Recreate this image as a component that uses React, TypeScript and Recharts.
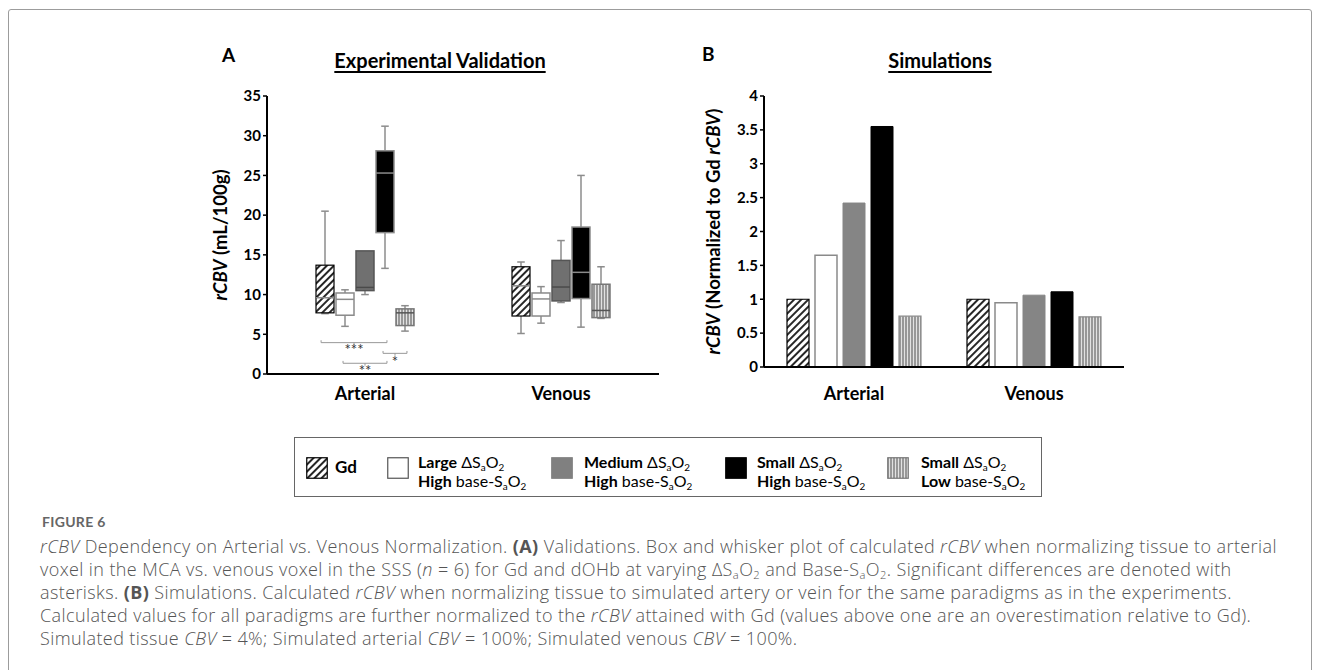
import React from "react";
import { BarChart, Bar, XAxis, YAxis, ReferenceLine, ReferenceDot } from "recharts";

// ---------- data ----------
const categories = ["Arterial", "Venous"];
const seriesKeys = ["gd", "large", "medium", "smallHigh", "smallLow"];

// box statistics per category: [min, q1, median, q3, max]
const gdBox = [[7.6, 7.7, 9.6, 13.7, 20.5], [5.1, 7.3, 11.1, 13.5, 14.1]];
const largeBox = [[6.0, 7.4, 9.4, 10.2, 10.6], [6.4, 7.3, 9.45, 10.2, 11.0]];
const mediumBox = [[10.0, 10.5, 10.9, 15.5, 15.5], [9.0, 9.2, 10.95, 14.3, 16.8]];
const smallHighBox = [[13.3, 17.8, 25.3, 28.1, 31.2], [5.9, 9.5, 12.8, 18.5, 25.0]];
const smallLowBox = [[5.4, 6.1, 7.7, 8.2, 8.6], [7.0, 7.1, 8.0, 11.3, 13.5]];

// simulated normalized rCBV per series
const simGd = [1.0, 1.0];
const simLarge = [1.65, 0.95];
const simMedium = [2.42, 1.06];
const simSmallHigh = [3.55, 1.11];
const simSmallLow = [0.75, 0.74];

const yTicksA = [0, 5, 10, 15, 20, 25, 30, 35];
const yTicksB = [0, 0.5, 1, 1.5, 2, 2.5, 3, 3.5, 4];

// significance braces in Arterial group (series indices)
const brackets = [
  { from: 0, to: 3, y: 3.95, label: "***", labelY: 3.0 },
  { from: 1, to: 3, y: 1.35, label: "**", labelY: 0.45 },
  { from: 3, to: 4, y: 2.6, label: "*", labelY: 1.5 },
];

const rowsA = categories.map((c, i) => ({
  category: c,
  gd: gdBox[i],
  large: largeBox[i],
  medium: mediumBox[i],
  smallHigh: smallHighBox[i],
  smallLow: smallLowBox[i],
}));

const rowsB = categories.map((c, i) => ({
  category: c,
  gd: simGd[i],
  large: simLarge[i],
  medium: simMedium[i],
  smallHigh: simSmallHigh[i],
  smallLow: simSmallLow[i],
}));

// ---------- styles ----------
const FONT = "Lato, 'Open Sans', sans-serif";
const CAPTION_FONT = "'Open Sans', Lato, sans-serif";

const boxStyles: any = {
  gd: { fill: "url(#hatchDiag)", stroke: "#000", sw: 1.2, median: "#8a8a8a" },
  large: { fill: "#fff", stroke: "#8a8a8a", sw: 1.5, median: "#8a8a8a" },
  medium: { fill: "#707070", stroke: "#555", sw: 1.5, median: "#4a4a4a" },
  smallHigh: { fill: "#000", stroke: "#8a8a8a", sw: 1.5, median: "#8a8a8a" },
  smallLow: { fill: "url(#vStripe)", stroke: "#777", sw: 1.5, median: "#555" },
};

const barStylesB: any = {
  gd: { fill: "url(#hatchDiag)", stroke: "#000", sw: 1.2 },
  large: { fill: "#fff", stroke: "#8a8a8a", sw: 1.5 },
  medium: { fill: "#858585", stroke: "#858585", sw: 1 },
  smallHigh: { fill: "#000", stroke: "#000", sw: 1 },
  smallLow: { fill: "url(#vStripe)", stroke: "#8a8a8a", sw: 1.2 },
};

// layout constants panel A
const A_W = 470, A_H = 340;
const A_MARGIN = { top: 16, right: 11, left: 27, bottom: 16 };
const A_YW = 40;
const A_BAR = 18, A_GAP = 2;
const A_PLOT_W = A_W - A_MARGIN.left - A_MARGIN.right - A_YW;
const A_BAND = A_PLOT_W / categories.length;
// position of a series' box centre in the Arterial band, as a fraction of the plot width
const centerUnits = (i: number) =>
  ((A_BAND - (seriesKeys.length * A_BAR + (seriesKeys.length - 1) * A_GAP)) / 2 + i * (A_BAR + A_GAP) + A_BAR / 2) / A_PLOT_W;

function makeBoxShape(key: string) {
  const st = boxStyles[key];
  return (props: any) => {
    const { x, y, width, height, payload } = props;
    const [mn, q1, med, q3, mx] = payload[key];
    const top = Math.min(y, y + height);
    const bottom = Math.max(y, y + height);
    const per = (bottom - top) / (q3 - q1);
    const py = (v: number) => bottom - (v - q1) * per;
    const cx = x + width / 2;
    const capW = width * 0.42;
    const wc = "#8c8c8c";
    return (
      <g>
        {mx > q3 && <line x1={cx} x2={cx} y1={py(mx)} y2={top} stroke={wc} strokeWidth={1.5} />}
        {mx > q3 && <line x1={cx - capW / 2} x2={cx + capW / 2} y1={py(mx)} y2={py(mx)} stroke={wc} strokeWidth={1.5} />}
        {mn < q1 && <line x1={cx} x2={cx} y1={bottom} y2={py(mn)} stroke={wc} strokeWidth={1.5} />}
        {mn < q1 && <line x1={cx - capW / 2} x2={cx + capW / 2} y1={py(mn)} y2={py(mn)} stroke={wc} strokeWidth={1.5} />}
        <rect x={x} y={top} width={width} height={bottom - top} fill={st.fill} stroke={st.stroke} strokeWidth={st.sw} />
        <line x1={x} x2={x + width} y1={py(med)} y2={py(med)} stroke={st.median} strokeWidth={1.5} />
      </g>
    );
  };
}

const yLabelA = (props: any) => {
  const vb = props.viewBox || { x: 27, y: 16, width: 40, height: 278 };
  const x = vb.x - 7;
  const y = vb.y + vb.height / 2;
  return (
    <text x={x} y={y} transform={`rotate(-90 ${x} ${y})`} textAnchor="middle" dominantBaseline="central"
      fontSize={18.5} fontWeight={700} fill="#000" fontFamily={FONT}>
      <tspan fontStyle="italic">rCBV</tspan> (mL/100g)
    </text>
  );
};

const yLabelB = (props: any) => {
  const vb = props.viewBox || { x: 44, y: 16, width: 40, height: 271 };
  const x = vb.x - 11;
  const y = vb.y + vb.height / 2;
  return (
    <text x={x} y={y} transform={`rotate(-90 ${x} ${y})`} textAnchor="middle" dominantBaseline="central"
      fontSize={18.5} fontWeight={700} fill="#000" fontFamily={FONT}>
      <tspan fontStyle="italic">rCBV</tspan> (Normalized to Gd <tspan fontStyle="italic">rCBV</tspan>)
    </text>
  );
};

const Sub = ({ children }: any) => (
  <sub style={{ fontSize: "0.62em", verticalAlign: "-0.3em", lineHeight: 0 }}>{children}</sub>
);

const legendItems = [
  { key: "gd", swatchLeft: 306, textLeft: 335, l1: null, l2: null },
  { key: "large", swatchLeft: 387, textLeft: 418, l1: "Large", l2: "High" },
  { key: "medium", swatchLeft: 551, textLeft: 584, l1: "Medium", l2: "High" },
  { key: "smallHigh", swatchLeft: 725, textLeft: 757, l1: "Small", l2: "High" },
  { key: "smallLow", swatchLeft: 887, textLeft: 921, l1: "Small", l2: "Low" },
];

const legendSwatch: any = {
  gd: { fill: "url(#hatchDiag)", stroke: "#000" },
  large: { fill: "#fff", stroke: "#555" },
  medium: { fill: "#808080", stroke: "#808080" },
  smallHigh: { fill: "#000", stroke: "#000" },
  smallLow: { fill: "url(#vStripe)", stroke: "#777" },
};

export default function App() {
  return (
    <div style={{ position: "absolute", left: 0, top: 0, width: 1320, height: 670, overflow: "hidden", background: "#fff", fontFamily: FONT, color: "#000" }}>
      <svg width={0} height={0} style={{ position: "absolute" }}>
        <defs>
          <pattern id="hatchDiag" patternUnits="userSpaceOnUse" width={5} height={5} patternTransform="rotate(45)">
            <rect width={5} height={5} fill="#fff" />
            <line x1={1} y1={0} x2={1} y2={5} stroke="#000" strokeWidth={1.7} />
          </pattern>
          <pattern id="vStripe" patternUnits="userSpaceOnUse" width={3} height={3}>
            <rect width={3} height={3} fill="#e2e2e2" />
            <line x1={1} y1={0} x2={1} y2={3} stroke="#707070" strokeWidth={1.3} />
          </pattern>
        </defs>
      </svg>

      {/* frame */}
      <div style={{ position: "absolute", left: 8, top: 9, width: 1304, height: 720, border: "1.5px solid #9c9c9c", borderRadius: 3, boxSizing: "border-box" }} />

      {/* panel letters & titles */}
      <div style={{ position: "absolute", left: 222, top: 45, fontSize: 19, fontWeight: 700, lineHeight: "20px" }}>A</div>
      <div style={{ position: "absolute", left: 702, top: 44, fontSize: 19, fontWeight: 700, lineHeight: "20px" }}>B</div>
      <div style={{ position: "absolute", left: 440, top: 49, transform: "translateX(-50%)", fontSize: 20, fontWeight: 700, lineHeight: "22px", textDecoration: "underline", textDecorationThickness: "2px", textUnderlineOffset: "3px", whiteSpace: "nowrap" }}>Experimental Validation</div>
      <div style={{ position: "absolute", left: 940, top: 49, transform: "translateX(-50%)", fontSize: 20, fontWeight: 700, lineHeight: "22px", textDecoration: "underline", textDecorationThickness: "2px", textUnderlineOffset: "3px", whiteSpace: "nowrap" }}>Simulations</div>

      {/* Panel A */}
      <div style={{ position: "absolute", left: 200, top: 80 }}>
        <BarChart width={A_W} height={A_H} data={rowsA} margin={A_MARGIN} barSize={A_BAR} barGap={A_GAP}>
          <XAxis dataKey="category" height={30} tickLine={false} axisLine={{ stroke: "#000", strokeWidth: 2 }}
            tick={{ fontSize: 18, fontWeight: 700, fill: "#000", fontFamily: FONT }} tickMargin={7} interval={0} />
          <XAxis xAxisId="n" type="number" domain={[0, 1]} hide allowDataOverflow />
          <YAxis width={A_YW} domain={[0, 35]} ticks={yTicksA} interval={0} tickSize={4}
            tickLine={{ stroke: "#000", strokeWidth: 1.5 }} axisLine={{ stroke: "#000", strokeWidth: 2 }}
            tick={{ fontSize: 15, fontWeight: 700, fill: "#000", fontFamily: FONT }}
            label={{ content: yLabelA }} />
          {seriesKeys.map((k) => (
            <Bar key={k} dataKey={(d: any) => [d[k][1], d[k][3]]} isAnimationActive={false} shape={makeBoxShape(k)} />
          ))}
          {brackets.map((b, i) => {
            const x1 = centerUnits(b.from) - (b.from === 0 ? 0.01 : 0.005);
            const x2 = centerUnits(b.to) + 0.005;
            const xm = (x1 + x2) / 2;
            const d = 0.3;
            return [
              <ReferenceLine key={`m${i}`} xAxisId="n" segment={[{ x: x1, y: b.y }, { x: x2, y: b.y }]} stroke="#999" strokeWidth={1} ifOverflow="visible" />,
              <ReferenceLine key={`l${i}`} xAxisId="n" segment={[{ x: x1, y: b.y }, { x: x1, y: b.y + d }]} stroke="#999" strokeWidth={1} ifOverflow="visible" />,
              <ReferenceLine key={`r${i}`} xAxisId="n" segment={[{ x: x2, y: b.y }, { x: x2, y: b.y + d }]} stroke="#999" strokeWidth={1} ifOverflow="visible" />,
              <ReferenceLine key={`c${i}`} xAxisId="n" segment={[{ x: xm, y: b.y }, { x: xm, y: b.y - d }]} stroke="#999" strokeWidth={1} ifOverflow="visible" />,
              <ReferenceDot key={`t${i}`} xAxisId="n" x={xm} y={b.labelY} r={0} fill="none" stroke="none" ifOverflow="visible"
                label={{ value: b.label, position: "center", fill: "#333", stroke: "none", fontSize: 15, fontFamily: FONT }} />,
            ];
          })}
        </BarChart>
      </div>

      {/* Panel B */}
      <div style={{ position: "absolute", left: 680, top: 80 }}>
        <BarChart width={460} height={340} data={rowsB} margin={{ top: 16, right: 16, left: 44, bottom: 23 }} barSize={22} barGap={6}>
          <XAxis dataKey="category" height={30} tickLine={false} axisLine={{ stroke: "#000", strokeWidth: 2 }}
            tick={{ fontSize: 18, fontWeight: 700, fill: "#000", fontFamily: FONT }} tickMargin={14} interval={0} />
          <YAxis width={40} domain={[0, 4]} ticks={yTicksB} interval={0} tickSize={4}
            tickLine={{ stroke: "#000", strokeWidth: 1.5 }} axisLine={{ stroke: "#000", strokeWidth: 2 }}
            tick={{ fontSize: 15, fontWeight: 700, fill: "#000", fontFamily: FONT }}
            label={{ content: yLabelB }} />
          {seriesKeys.map((k) => (
            <Bar key={k} dataKey={k} isAnimationActive={false} fill={barStylesB[k].fill}
              stroke={barStylesB[k].stroke} strokeWidth={barStylesB[k].sw} />
          ))}
        </BarChart>
      </div>

      {/* Legend */}
      <div style={{ position: "absolute", left: 294, top: 437, width: 748, height: 60, border: "1.5px solid #666", boxSizing: "border-box" }} />
      {legendItems.map((it) => (
        <React.Fragment key={it.key}>
          <svg style={{ position: "absolute", left: it.swatchLeft, top: 457 }} width={22} height={22}>
            <rect x={0.75} y={0.75} width={20.5} height={20.5} fill={legendSwatch[it.key].fill} stroke={legendSwatch[it.key].stroke} strokeWidth={1.2} />
          </svg>
          {it.l1 === null ? (
            <div style={{ position: "absolute", left: it.textLeft, top: 457, fontSize: 17, fontWeight: 700, lineHeight: "20px" }}>Gd</div>
          ) : (
            <div style={{ position: "absolute", left: it.textLeft, top: 452, fontSize: 16, fontWeight: 400, lineHeight: "19px", whiteSpace: "nowrap" }}>
              <div><span style={{ fontWeight: 700 }}>{it.l1}</span> ΔS<Sub>a</Sub>O<Sub>2</Sub></div>
              <div><span style={{ fontWeight: 700 }}>{it.l2}</span> base-S<Sub>a</Sub>O<Sub>2</Sub></div>
            </div>
          )}
        </React.Fragment>
      ))}

      {/* Caption */}
      <div style={{ position: "absolute", left: 42, top: 514, fontSize: 14, fontWeight: 700, color: "#666", letterSpacing: "0.3px", lineHeight: "16px", fontFamily: FONT }}>FIGURE 6</div>
      <div style={{ position: "absolute", left: 40, top: 535, fontSize: 18, fontWeight: 300, color: "#555", lineHeight: "23px", letterSpacing: "0.4px", whiteSpace: "nowrap", fontFamily: CAPTION_FONT }}>
        <div><i>rCBV</i> Dependency on Arterial vs. Venous Normalization. <b style={{ fontWeight: 700 }}>(A)</b> Validations. Box and whisker plot of calculated <i>rCBV</i> when normalizing tissue to arterial</div>
        <div>voxel in the MCA vs. venous voxel in the SSS (<i>n</i> = 6) for Gd and dOHb at varying ΔS<Sub>a</Sub>O<Sub>2</Sub> and Base-S<Sub>a</Sub>O<Sub>2</Sub>. Significant differences are denoted with</div>
        <div>asterisks. <b style={{ fontWeight: 700 }}>(B)</b> Simulations. Calculated <i>rCBV</i> when normalizing tissue to simulated artery or vein for the same paradigms as in the experiments.</div>
        <div>Calculated values for all paradigms are further normalized to the <i>rCBV</i> attained with Gd (values above one are an overestimation relative to Gd).</div>
        <div>Simulated tissue <i>CBV</i> = 4%; Simulated arterial <i>CBV</i> = 100%; Simulated venous <i>CBV</i> = 100%.</div>
      </div>
    </div>
  );
}
